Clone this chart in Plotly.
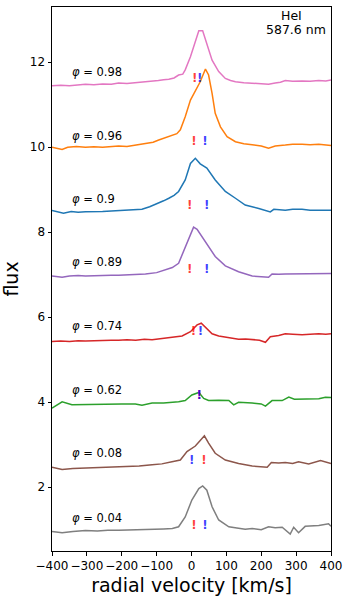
import plotly.graph_objects as go

# HeI 587.6 nm line profiles at different orbital phases (offset in flux)
phases = ["0.98", "0.96", "0.9", "0.89", "0.74", "0.62", "0.08", "0.04"]
colors = ["#e377c2", "#ff7f0e", "#1f77b4", "#9467bd", "#d62728", "#2ca02c", "#8c564b", "#7f7f7f"]

v_098 = [-400, -375, -350, -325, -304, -280, -255, -230, -209, -185, -160, -135, -113, -95, -80, -65, -50, -37, -25, -18, -3, 11, 21, 32, 44, 59, 78, 97, 112, 126, 150, 174, 200, 221, 240, 255, 269, 290, 317, 340, 365, 385, 400]
f_098 = [11.45, 11.46, 11.45, 11.47, 11.48, 11.47, 11.49, 11.48, 11.51, 11.50, 11.52, 11.54, 11.54, 11.57, 11.59, 11.60, 11.63, 11.70, 11.72, 11.82, 12.13, 12.52, 12.74, 12.74, 12.45, 12.05, 11.78, 11.62, 11.57, 11.54, 11.52, 11.51, 11.49, 11.48, 11.51, 11.53, 11.57, 11.55, 11.56, 11.55, 11.57, 11.56, 11.58]

v_096 = [-400, -385, -371, -355, -330, -304, -280, -255, -230, -209, -185, -160, -132, -110, -94, -75, -56, -42, -32, -18, -3, 11, 25, 40, 49, 59, 68, 83, 102, 126, 150, 174, 200, 221, 240, 269, 290, 317, 340, 365, 385, 400]
f_096 = [10.0, 9.97, 9.95, 10.00, 10.02, 10.00, 10.01, 10.00, 10.02, 10.03, 10.02, 10.05, 10.09, 10.12, 10.17, 10.22, 10.27, 10.32, 10.41, 10.72, 11.11, 11.31, 11.54, 11.84, 11.70, 11.27, 10.80, 10.48, 10.25, 10.13, 10.08, 10.06, 10.03, 9.98, 10.03, 10.05, 10.07, 10.07, 10.06, 10.07, 10.05, 10.04]

v_090 = [-400, -385, -367, -345, -325, -304, -280, -255, -230, -209, -185, -160, -142, -120, -94, -80, -65, -50, -37, -18, -3, 11, 25, 44, 68, 97, 126, 154, 193, 226, 236, 255, 269, 290, 317, 340, 365, 385, 400]
f_090 = [8.51, 8.49, 8.45, 8.49, 8.47, 8.48, 8.48, 8.49, 8.50, 8.51, 8.51, 8.52, 8.54, 8.60, 8.68, 8.74, 8.80, 8.87, 8.96, 9.23, 9.62, 9.74, 9.61, 9.51, 9.23, 8.96, 8.80, 8.64, 8.56, 8.48, 8.54, 8.53, 8.52, 8.54, 8.54, 8.52, 8.52, 8.53, 8.52]

v_089 = [-400, -385, -371, -350, -325, -304, -280, -255, -230, -209, -180, -155, -132, -100, -75, -55, -37, -18, -3, 6, 16, 40, 68, 97, 135, 174, 200, 221, 231, 250, 269, 290, 317, 345, 370, 400]
f_089 = [6.97, 6.96, 6.94, 6.97, 6.98, 6.97, 6.98, 6.98, 6.99, 6.99, 7.00, 7.00, 7.02, 7.05, 7.11, 7.17, 7.27, 7.66, 7.98, 8.12, 8.07, 7.78, 7.43, 7.21, 7.07, 6.97, 6.96, 6.94, 7.02, 7.01, 7.02, 7.02, 7.03, 7.02, 7.03, 7.03]

v_074 = [-400, -375, -350, -325, -304, -280, -255, -230, -209, -185, -160, -135, -113, -90, -65, -45, -27, -3, 16, 28, 44, 59, 78, 97, 115, 135, 155, 174, 195, 212, 226, 250, 269, 290, 317, 340, 365, 385, 400]
f_074 = [5.43, 5.44, 5.43, 5.45, 5.44, 5.45, 5.45, 5.46, 5.46, 5.47, 5.46, 5.48, 5.47, 5.49, 5.51, 5.53, 5.56, 5.66, 5.82, 5.86, 5.74, 5.61, 5.56, 5.53, 5.50, 5.48, 5.49, 5.47, 5.46, 5.41, 5.54, 5.57, 5.61, 5.60, 5.59, 5.60, 5.61, 5.60, 5.61]

v_062 = [-400, -371, -343, -300, -257, -200, -161, -142, -113, -80, -37, -18, 1, 21, 35, 49, 78, 107, 121, 135, 174, 200, 212, 231, 260, 279, 295, 307, 335, 365, 384, 400]
f_062 = [3.86, 4.01, 3.94, 3.95, 3.95, 3.96, 3.96, 3.93, 3.98, 3.98, 4.01, 4.04, 4.17, 4.23, 4.09, 4.04, 4.05, 4.04, 3.94, 4.00, 3.98, 3.96, 3.91, 4.04, 4.04, 4.12, 4.07, 4.07, 4.08, 4.08, 4.12, 4.11]

v_008 = [-400, -371, -340, -304, -270, -240, -209, -180, -150, -113, -85, -56, -32, -13, 11, 25, 37, 49, 68, 97, 135, 174, 200, 217, 229, 250, 269, 290, 307, 336, 370, 400]
f_008 = [2.47, 2.42, 2.44, 2.45, 2.46, 2.47, 2.47, 2.49, 2.50, 2.53, 2.55, 2.60, 2.64, 2.84, 2.97, 3.10, 3.21, 3.04, 2.80, 2.64, 2.56, 2.50, 2.48, 2.47, 2.58, 2.57, 2.58, 2.56, 2.60, 2.55, 2.63, 2.56]

v_004 = [-400, -371, -340, -304, -270, -240, -209, -170, -140, -113, -80, -55, -37, -18, 1, 21, 32, 44, 59, 78, 107, 130, 154, 174, 200, 221, 240, 260, 283, 293, 307, 326, 345, 365, 393, 400]
f_004 = [0.96, 0.93, 0.96, 0.98, 0.97, 0.99, 0.99, 1.00, 0.99, 1.01, 1.02, 1.03, 1.07, 1.30, 1.70, 1.97, 2.03, 1.93, 1.54, 1.23, 1.07, 1.04, 1.01, 1.03, 1.00, 1.07, 1.05, 1.06, 0.90, 1.06, 0.93, 1.08, 1.09, 1.10, 1.14, 1.08]

velocities = [v_098, v_096, v_090, v_089, v_074, v_062, v_008, v_004]
fluxes = [f_098, f_096, f_090, f_089, f_074, f_062, f_008, f_004]

# phase label positions
label_v = -348
label_y = [11.78, 10.27, 8.78, 7.29, 5.80, 4.29, 2.80, 1.28]

# red / blue velocity markers ("!") for each phase
red_v = [9, 7, -5, -5, 6, 22.5, 36, 7]
blue_v = [23.5, 39, 43.5, 43.5, 26, 22.5, 0.5, 39]
mark_y = [11.60, 10.12, 8.62, 7.11, 5.65, 4.14, 2.61, 1.10]

fig = go.Figure()

for v, f, c in zip(velocities, fluxes, colors):
    fig.add_trace(go.Scatter(x=v, y=f, mode="lines", line=dict(color=c, width=1.5),
                             showlegend=False))

fig.add_trace(go.Scatter(x=red_v, y=mark_y, mode="text", text=["!"] * len(red_v),
                         textfont=dict(color="rgba(255,0,0,0.75)", size=12, family="DejaVu Sans", weight="bold"),
                         showlegend=False))
fig.add_trace(go.Scatter(x=blue_v, y=mark_y, mode="text", text=["!"] * len(blue_v),
                         textfont=dict(color="rgba(0,0,255,0.75)", size=12, family="DejaVu Sans", weight="bold"),
                         showlegend=False))

for p, y in zip(phases, label_y):
    fig.add_annotation(x=label_v, y=y, text=f"<i>φ</i> = {p}", showarrow=False,
                       xanchor="left", yanchor="middle", font=dict(size=11.5, color="black"))

fig.add_annotation(x=251, y=13.10, text="HeI", showarrow=False, xanchor="left", yanchor="middle",
                   font=dict(size=12.5, color="black"))
fig.add_annotation(x=391, y=12.78, text="587.6 nm", showarrow=False, xanchor="right", yanchor="middle",
                   font=dict(size=12.5, color="black"))

axis_style = dict(showgrid=False, zeroline=False, showline=True, linecolor="black", linewidth=1,
                  mirror=True, ticks="outside", ticklen=3.5, tickwidth=1, tickcolor="black",
                  tickfont=dict(size=12, color="black"), automargin=False, tickangle=0)

fig.update_xaxes(range=[-400, 400], tickvals=list(range(-400, 401, 100)),
                 title=dict(text="radial velocity [km/s]", font=dict(size=19, color="black"), standoff=6),
                 **axis_style)
fig.update_yaxes(range=[0.5, 13.3], tickvals=[2, 4, 6, 8, 10, 12],
                 title=dict(text="flux", font=dict(size=19, color="black"), standoff=8),
                 **axis_style)

fig.update_layout(
    width=350, height=601,
    margin=dict(l=52, r=19, t=7, b=50),
    plot_bgcolor="white", paper_bgcolor="white",
    font=dict(family="DejaVu Sans", color="black"),
)

# the page body has a default margin; remove it so the figure fills the window
fig.write_html("out.html", config={"displayModeBar": False},
               post_script="document.body.style.margin = '0';")
